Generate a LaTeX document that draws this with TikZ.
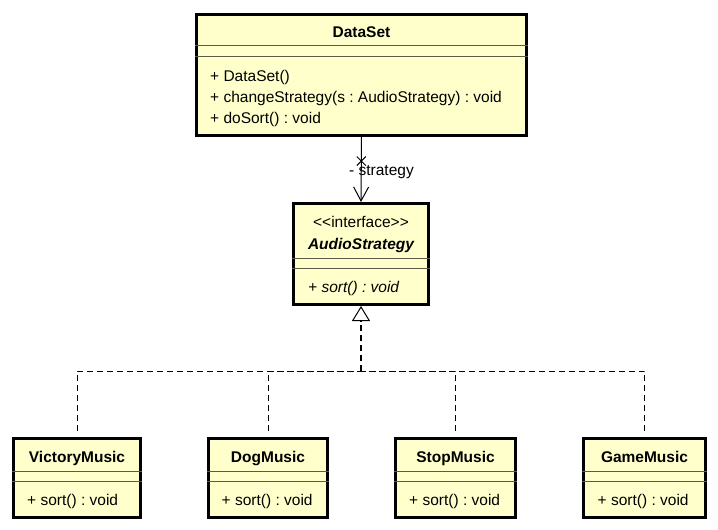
\documentclass[tikz,border=0pt]{standalone}
\usepackage{fontspec}
\setmainfont{Liberation Sans}
\usepackage{tikz}
\usetikzlibrary{calc,arrows.meta}
\frenchspacing

\definecolor{classfill}{RGB}{255,255,204}
\definecolor{sepline}{RGB}{90,90,70}
\newcommand{\umlfont}{\fontsize{15.5}{18}\selectfont}

\tikzset{
  classbox/.style={draw=black, line width=3pt, fill=classfill, inner sep=0pt},
  classname/.style={font=\umlfont\bfseries, inner sep=0pt, anchor=base},
  member/.style={font=\umlfont, inner sep=0pt, anchor=base west},
  compartment/.style={draw=sepline, line width=1pt},
  realize/.style={dash pattern=on 6pt off 4pt, line width=1pt},
  navigable/.style={line width=1pt, -{Straight Barb[length=14pt, width=15pt, line width=1pt]}}
}

\begin{document}
\begin{tikzpicture}[x=1pt, y=-1pt]
            \useasboundingbox (0,0) rectangle (718,530);

            \node[classbox, minimum width=330pt, minimum height=121pt] (dataset) at (361.5,75) {};
            \node[classname] (datasetname) at (361.5,37) {DataSet};
            \draw[compartment] (dataset.west |- 0,45) -- (dataset.east |- 0,45);
            \draw[compartment] (dataset.west |- 0,56) -- (dataset.east |- 0,56);
            \node[member] (dsop1) at (210,81) {+ DataSet()};
            \node[member] (dsop2) at (210,102) {+ changeStrategy(s : AudioStrategy) : void};
            \node[member] (dsop3) at (210,123) {+ doSort() : void};

            \node[classbox, minimum width=135pt, minimum height=101pt] (audio) at (361,254) {};
            \node[member, anchor=base] (audiostereo) at (361,227.5) {<{}<interface>{}>};
            \node[classname, font=\umlfont\bfseries\itshape] (audioname) at (361,249.5) {AudioStrategy};
            \draw[compartment] (audio.west |- 0,258) -- (audio.east |- 0,258);
            \draw[compartment] (audio.west |- 0,268) -- (audio.east |- 0,268);
            \node[member, font=\umlfont\itshape] (audioop) at (308,292) {+ sort() : void};

            \draw[navigable] (dataset.south) -- (audio.north) coordinate[pos=0.37] (navmark);
            \draw[line width=1pt] (navmark) +(-4.5,-4.5) -- +(4.5,4.5) +(-4.5,4.5) -- +(4.5,-4.5);
            \node[member] (rolename) at (349,175.5) {- strategy};

            \node[classbox, minimum width=127pt, minimum height=79pt] (victory) at (77,478) {};
            \node[classname] (victoryname) at (77,462.5) {VictoryMusic};
            \draw[compartment] (victory.west |- 0,471.5) -- (victory.east |- 0,471.5);
            \draw[compartment] (victory.west |- 0,481.5) -- (victory.east |- 0,481.5);
            \node[member] (victoryop) at (27,505) {+ sort() : void};

            \node[classbox, minimum width=119pt, minimum height=79pt] (dog) at (268,478) {};
            \node[classname] (dogname) at (268,462.5) {DogMusic};
            \draw[compartment] (dog.west |- 0,471.5) -- (dog.east |- 0,471.5);
            \draw[compartment] (dog.west |- 0,481.5) -- (dog.east |- 0,481.5);
            \node[member] (dogop) at (221.5,505) {+ sort() : void};

            \node[classbox, minimum width=120pt, minimum height=79pt] (stop) at (455.5,478) {};
            \node[classname] (stopname) at (455.5,462.5) {StopMusic};
            \draw[compartment] (stop.west |- 0,471.5) -- (stop.east |- 0,471.5);
            \draw[compartment] (stop.west |- 0,481.5) -- (stop.east |- 0,481.5);
            \node[member] (stopop) at (409,505) {+ sort() : void};

            \node[classbox, minimum width=122pt, minimum height=79pt] (game) at (644.5,478) {};
            \node[classname] (gamename) at (644.5,462.5) {GameMusic};
            \draw[compartment] (game.west |- 0,471.5) -- (game.east |- 0,471.5);
            \draw[compartment] (game.west |- 0,481.5) -- (game.east |- 0,481.5);
            \node[member] (gameop) at (597.5,505) {+ sort() : void};

            \coordinate (joint) at (audio.south |- 0,371);
            \draw[realize, shorten <=6pt] (victory.north) |- (joint);
            \draw[realize, shorten <=6pt] (dog.north) |- (joint);
            \draw[realize, shorten <=6pt] (stop.north) |- (joint);
            \draw[realize, shorten <=6pt] (game.north) |- (joint);
            \draw[realize, line width=1.5pt, -{Triangle[open, length=15pt, width=18pt, line width=1pt]}] (joint) -- (audio.south);
        \end{tikzpicture}
\end{document}
